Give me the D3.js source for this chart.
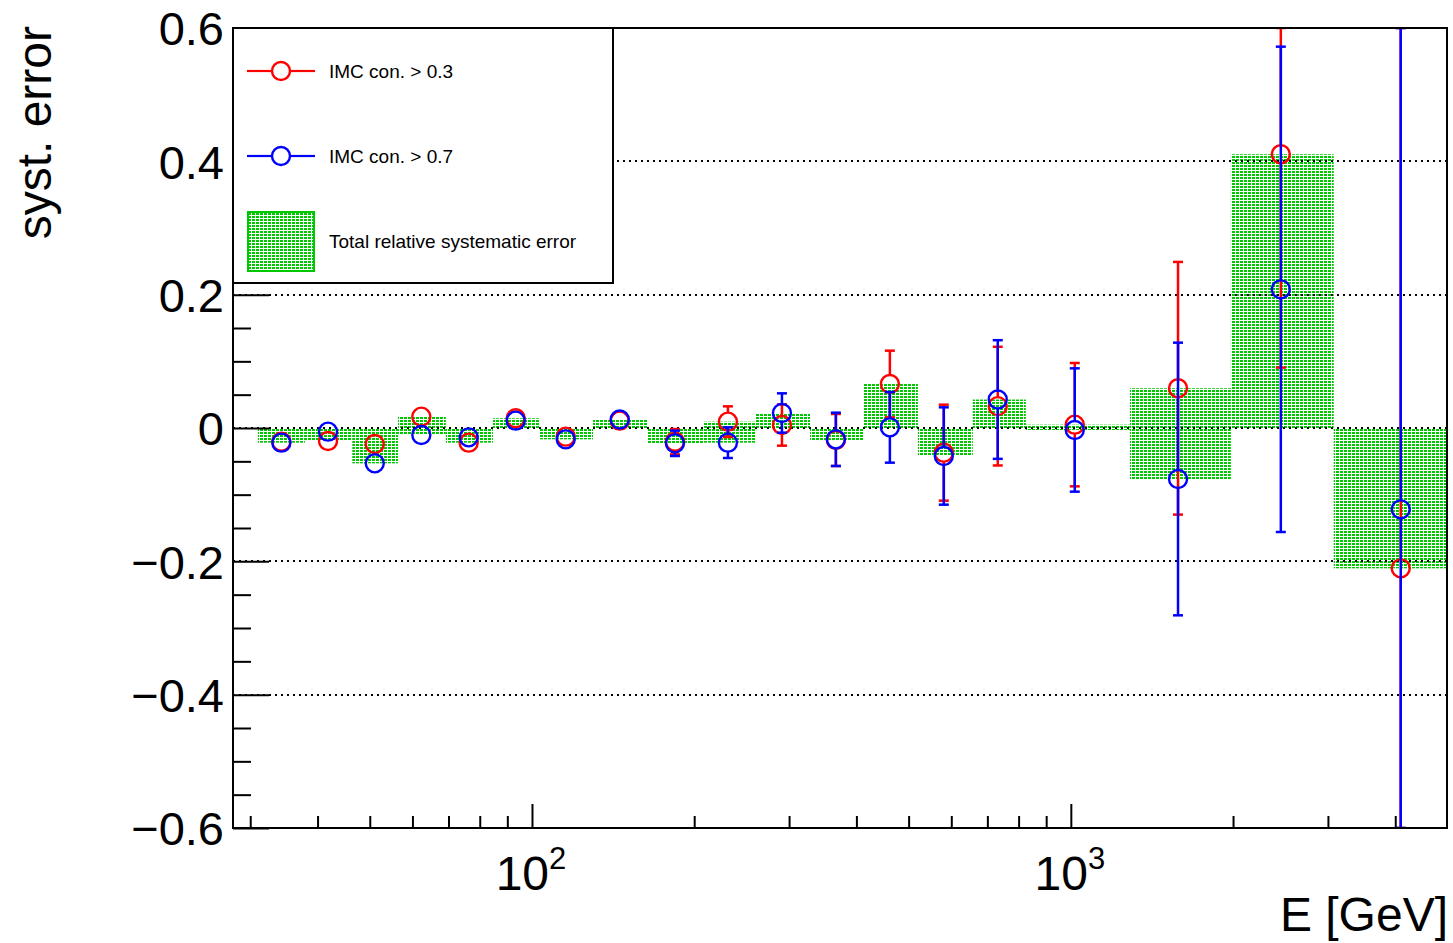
<!DOCTYPE html>
<html>
<head>
<meta charset="utf-8">
<script src="https://cdn.jsdelivr.net/npm/d3@7"></script>
<style>
  html, body { margin: 0; padding: 0; background: #fff; }
  svg { display: block; font-family: "Liberation Sans", Arial, Helvetica, sans-serif; }
</style>
</head>
<body>
<svg id="chart" width="1453" height="943"></svg>
<script>
// Energy bin edges [GeV] of the systematic-error histogram
const binEdges = [31.0, 37.9, 46.4, 56.4, 69.2, 84.6, 103.5, 129.8, 163.5, 207.6,
                  260.4, 328.1, 411.4, 520.2, 657.6, 825, 1287, 1981, 3075, 5500];
// Mean energy of each bin [GeV]
const energy = [34.27, 41.83, 51.08, 62.32, 76.30, 93.28, 115.5, 145.5, 184.2, 231.0,
                291.0, 366.4, 461.5, 581.1, 731.8, 1017, 1581, 2453, 4095];
// Relative deviation, IMC con. > 0.3
const imc03 = [-0.0206, -0.0195, -0.024, 0.017, -0.022, 0.0146, -0.013, 0.011, -0.0206, 0.0095,
               0.0045, -0.018, 0.066, -0.037, 0.0328, 0.005, 0.0596, 0.4106, -0.2105];
const imc03Err = [0.006, 0.006, 0.007, 0.007, 0.007, 0.008, 0.008, 0.010, 0.019, 0.023,
                  0.031, 0.039, 0.050, 0.072, 0.089, 0.0925, 0.1895, 0.32, 0.85];
// Relative deviation, IMC con. > 0.7
const imc07 = [-0.022, -0.0055, -0.053, -0.0105, -0.014, 0.011, -0.017, 0.0128, -0.023, -0.022,
               0.0225, -0.017, 0.001, -0.042, 0.0427, -0.003, -0.0765, 0.208, -0.122];
const imc07Err = [0.006, 0.006, 0.007, 0.007, 0.007, 0.008, 0.008, 0.0125, 0.019, 0.023,
                  0.0295, 0.040, 0.053, 0.073, 0.089, 0.0925, 0.2045, 0.364, 0.95];
// Total relative systematic error band (upper / lower edge per bin)
const totalHigh = [0, 0, 0, 0.017, 0, 0.0146, 0, 0.0128, 0, 0.0095,
                   0.0225, 0, 0.066, 0, 0.0427, 0.005, 0.0596, 0.4106, 0];
const totalLow  = [-0.022, -0.0195, -0.053, -0.0105, -0.022, 0, -0.017, 0, -0.023, -0.022,
                   0, -0.018, 0, -0.042, 0, -0.003, -0.0765, 0, -0.2105];

// Axis ticks and labels
const yMajorTicks = [-0.6, -0.4, -0.2, 0, 0.2, 0.4, 0.6];
const yTickLabels = ["\u22120.6", "\u22120.4", "\u22120.2", "0", "0.2", "0.4", "0.6"];
const yMinorTicks = [-0.55, -0.5, -0.45, -0.35, -0.3, -0.25, -0.15, -0.1, -0.05,
                     0.05, 0.1, 0.15, 0.25, 0.3, 0.35, 0.45, 0.5, 0.55];
const xMajorTicks = [100, 1000];
const xTickLabels = [["10", "2"], ["10", "3"]];
const xMinorTicks = [30, 40, 50, 60, 70, 80, 90, 200, 300, 400, 500, 600, 700, 800, 900,
                     2000, 3000, 4000];
const seriesNames = ["IMC con. > 0.3", "IMC con. > 0.7", "Total relative systematic error"];
const xTitle = "E [GeV]";
const yTitle = "syst. error";

const RED = "#ff0000", BLUE = "#0000ff", GREEN = "#00c800";
const frame = { left: 233, right: 1447, top: 28, bottom: 828 };

const svg = d3.select("#chart");
const x = d3.scaleLog().domain([27.87, 4990]).range([frame.left, frame.right]);
const y = d3.scaleLinear().domain([-0.6, 0.6]).range([frame.bottom, frame.top]);

// dotted fill pattern for the systematic band
const defs = svg.append("defs");
const pat = defs.append("pattern").attr("id", "dots")
  .attr("patternUnits", "userSpaceOnUse").attr("width", 4).attr("height", 3);
pat.append("rect").attr("width", 3).attr("height", 2).attr("fill", GREEN);

defs.append("clipPath").attr("id", "plotClip").append("rect")
  .attr("x", frame.left).attr("y", frame.top)
  .attr("width", frame.right - frame.left).attr("height", frame.bottom - frame.top);

const plot = svg.append("g").attr("clip-path", "url(#plotClip)");

// systematic error band
plot.append("g").selectAll("rect").data(totalHigh).join("rect")
  .attr("x", (d, i) => x(binEdges[i]))
  .attr("width", (d, i) => x(binEdges[i + 1]) - x(binEdges[i]))
  .attr("y", d => y(d))
  .attr("height", (d, i) => y(totalLow[i]) - y(d))
  .attr("fill", "url(#dots)");

// dotted horizontal grid
plot.append("g").selectAll("line").data(yMajorTicks).join("line")
  .attr("x1", frame.left).attr("x2", frame.right)
  .attr("y1", d => Math.round(y(d))).attr("y2", d => Math.round(y(d)))
  .attr("stroke", "#000").attr("stroke-width", 2).attr("stroke-dasharray", "2,4")
  .attr("shape-rendering", "crispEdges");

// data points with error bars
const R = 9;
function drawSeries(vals, errs, color) {
  const g = plot.append("g");
  vals.forEach((v, i) => {
    const cx = x(energy[i]);
    const cy = y(v);
    const hi = Math.min(v + errs[i], 0.6);
    const lo = Math.max(v - errs[i], -0.6);
    const yHi = y(hi), yLo = y(lo);
    if (cy - yHi > R) {
      g.append("line").attr("x1", cx).attr("x2", cx).attr("y1", yHi).attr("y2", cy - R)
        .attr("stroke", color).attr("stroke-width", 2.5);
      g.append("line").attr("x1", cx - 5).attr("x2", cx + 5).attr("y1", yHi).attr("y2", yHi)
        .attr("stroke", color).attr("stroke-width", 2.5);
    }
    if (yLo - cy > R) {
      g.append("line").attr("x1", cx).attr("x2", cx).attr("y1", cy + R).attr("y2", yLo)
        .attr("stroke", color).attr("stroke-width", 2.5);
      g.append("line").attr("x1", cx - 5).attr("x2", cx + 5).attr("y1", yLo).attr("y2", yLo)
        .attr("stroke", color).attr("stroke-width", 2.5);
    }
    g.append("circle").attr("cx", cx).attr("cy", cy).attr("r", R)
      .attr("fill", "none").attr("stroke", color).attr("stroke-width", 2.4);
  });
}
drawSeries(imc03, imc03Err, RED);
drawSeries(imc07, imc07Err, BLUE);

// axes
const yAxisG = svg.append("g").attr("transform", `translate(${frame.left},0)`)
  .call(d3.axisLeft(y).tickValues(yMajorTicks).tickSize(-36).tickSizeOuter(0).tickPadding(9)
    .tickFormat((d, i) => yTickLabels[i]));
const yMinorG = svg.append("g").attr("transform", `translate(${frame.left},0)`)
  .call(d3.axisLeft(y).tickValues(yMinorTicks).tickSize(-18).tickSizeOuter(0).tickFormat(""));
const xAxisG = svg.append("g").attr("transform", `translate(0,${frame.bottom})`)
  .call(d3.axisBottom(x).tickValues(xMajorTicks).tickSize(-24).tickSizeOuter(0).tickFormat(""));
const xMinorG = svg.append("g").attr("transform", `translate(0,${frame.bottom})`)
  .call(d3.axisBottom(x).tickValues(xMinorTicks).tickSize(-12).tickSizeOuter(0).tickFormat(""));

[yAxisG, yMinorG, xAxisG, xMinorG].forEach(g => {
  g.selectAll("line").attr("stroke", "#000").attr("stroke-width", 2);
  g.select(".domain").remove();
});
yAxisG.selectAll("text")
  .attr("font-family", "'Liberation Sans', Arial, sans-serif")
  .attr("font-size", 47).attr("fill", "#000").attr("dy", "0.36em");

// x tick labels as powers of ten
xMajorTicks.forEach((t, i) => {
  const txt = svg.append("text").attr("x", x(t) - 1).attr("y", frame.bottom + 62)
    .attr("text-anchor", "middle").attr("fill", "#000");
  txt.append("tspan").attr("font-size", 48).text(xTickLabels[i][0]);
  txt.append("tspan").attr("font-size", 31).attr("dy", -21).text(xTickLabels[i][1]);
});

// frame
svg.append("rect").attr("x", frame.left).attr("y", frame.top)
  .attr("width", frame.right - frame.left).attr("height", frame.bottom - frame.top)
  .attr("fill", "none").attr("stroke", "#000").attr("stroke-width", 2);

// axis titles
svg.append("text").attr("x", 1448).attr("y", 931).attr("text-anchor", "end")
  .attr("font-size", 48).attr("fill", "#000").text(xTitle);
svg.append("text").attr("transform", "translate(51,26) rotate(-90)").attr("text-anchor", "end")
  .attr("font-size", 48).attr("fill", "#000").text(yTitle);

// legend
const leg = svg.append("g");
leg.append("rect").attr("x", frame.left).attr("y", frame.top)
  .attr("width", 380).attr("height", 255)
  .attr("fill", "#fff").attr("stroke", "#000").attr("stroke-width", 2);
const legRows = [
  { name: seriesNames[0], color: RED, cy: 71 },
  { name: seriesNames[1], color: BLUE, cy: 156 }
];
legRows.forEach(r => {
  leg.append("line").attr("x1", 247).attr("x2", 281 - R).attr("y1", r.cy).attr("y2", r.cy)
    .attr("stroke", r.color).attr("stroke-width", 2.2);
  leg.append("line").attr("x1", 281 + R).attr("x2", 315).attr("y1", r.cy).attr("y2", r.cy)
    .attr("stroke", r.color).attr("stroke-width", 2.2);
  leg.append("circle").attr("cx", 281).attr("cy", r.cy).attr("r", R)
    .attr("fill", "none").attr("stroke", r.color).attr("stroke-width", 2.4);
  leg.append("text").attr("x", 329).attr("y", r.cy + 7).attr("font-size", 19)
    .attr("fill", "#000").text(r.name);
});
leg.append("rect").attr("x", 248).attr("y", 212).attr("width", 66).attr("height", 59)
  .attr("fill", "url(#dots)").attr("stroke", GREEN).attr("stroke-width", 2);
leg.append("text").attr("x", 329).attr("y", 248).attr("font-size", 19)
  .attr("fill", "#000").text(seriesNames[2]);
</script>
</body>
</html>
